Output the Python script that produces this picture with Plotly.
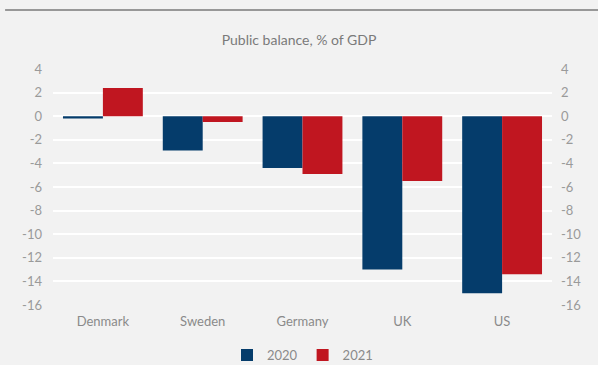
import plotly.graph_objects as go

countries = ["Denmark", "Sweden", "Germany", "UK", "US"]
val_2020 = [-0.2, -2.9, -4.4, -13.0, -15.0]
val_2021 = [2.4, -0.5, -4.9, -5.5, -13.4]
tick_vals = [4, 2, 0, -2, -4, -6, -8, -10, -12, -14, -16]
tick_text = ["4", "2", "0", "-2", "-4", "-6", "-8", "-10", "-12", "-14", "-16"]

navy = "#053c6b"
red = "#c01620"
grey = "#8a8a8a"
bg = "#f2f2f2"

fig = go.Figure()
fig.add_trace(go.Bar(x=countries, y=val_2020, name="2020", marker_color=navy, marker_line_width=0))
fig.add_trace(go.Bar(x=countries, y=val_2021, name="2021", marker_color=red, marker_line_width=0))
fig.add_trace(go.Scatter(x=countries, y=val_2020, yaxis="y2", mode="markers",
                         marker=dict(opacity=0), showlegend=False, hoverinfo="skip"))

fig.update_layout(
    width=598, height=365,
    margin=dict(l=53, r=46, t=69, b=60, autoexpand=False),
    paper_bgcolor=bg, plot_bgcolor=bg,
    barmode="group", bargap=0.2, bargroupgap=0,
    font=dict(family="Lato, sans-serif", size=13, color=grey),
    title=dict(text="Public balance, % of GDP", x=0.5, xanchor="center", y=0.89, yanchor="middle",
               font=dict(size=14, color="#7a7a7a")),
    xaxis=dict(showgrid=False, zeroline=False, showline=False, ticks="", ticklabelstandoff=7,
               tickfont=dict(size=13, color=grey)),
    yaxis=dict(range=[-16, 4], tickvals=tick_vals, ticktext=tick_text, showgrid=True,
               gridcolor="#ffffff", gridwidth=1.5, zeroline=False, showline=False, ticks="",
               ticklabelstandoff=10, tickfont=dict(size=13, color="#9a9a9a")),
    yaxis2=dict(range=[-16, 4], tickvals=tick_vals, ticktext=tick_text, overlaying="y", side="right",
                showgrid=False, zeroline=False, showline=False, ticks="",
                ticklabelstandoff=8, tickfont=dict(size=13, color="#9a9a9a")),
    legend=dict(orientation="h", x=0.5, xanchor="center", yref="container", y=0.027, yanchor="middle",
                font=dict(size=13, color=grey), itemwidth=30, traceorder="normal",
                bgcolor="rgba(0,0,0,0)"),
    shapes=[dict(type="line", xref="paper", yref="paper", x0=-0.096, x1=1.1, y0=1.25, y1=1.25,
                 line=dict(color="#7a7a7a", width=1.5))],
)
fig.write_html("out.html")
